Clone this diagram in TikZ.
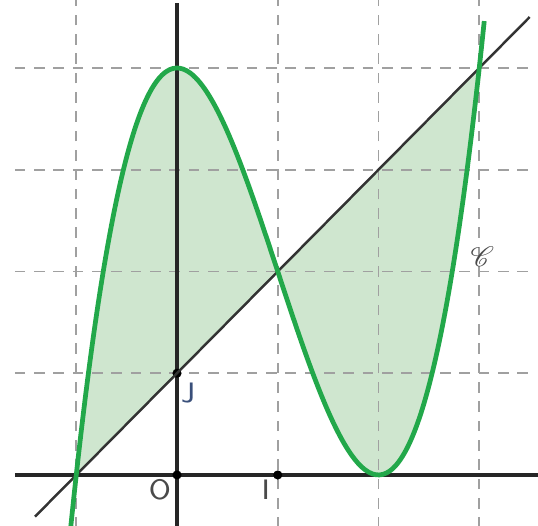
\documentclass[tikz,border=0pt]{standalone}
\usepackage{mathrsfs}
\usepackage{xcolor}
\definecolor{CurveGreen}{HTML}{22A84A}
\definecolor{AreaFill}{HTML}{CFE6CF}
\definecolor{GridGray}{HTML}{A0A0A0}
\definecolor{LabelGray}{HTML}{4A4A4A}
\definecolor{LabelBlue}{HTML}{3A4F7A}
\usetikzlibrary{positioning,calc}

\begin{document}
\begin{tikzpicture}[
    x=1.0075cm,
    y=1.0175cm,
    gridline/.style={
        draw=GridGray,
        dashed,
        dash pattern=on 3pt off 2.5pt,
        line width=0.5pt
    },
    axis/.style={
        draw=black!85,
        line width=1pt
    },
    curve/.style={
        draw=CurveGreen,
        line width=1.35pt,
        smooth,
        samples=120
    },
    droite/.style={
        draw=black!80,
        line width=0.7pt
    },
    area/.style={
        fill=AreaFill
    },
    lab/.style={
        font=\sffamily\footnotesize,
        text=LabelGray,
        inner sep=1pt
    },
    dot/.style={
        circle,
        fill=black,
        inner sep=0pt,
        minimum size=2.6pt
    }
]

\useasboundingbox (-1.757,-0.501) rectangle (3.583,4.668);

% ---------------------------------------------------------
% Aire entre la courbe et la droite
% ---------------------------------------------------------

\fill[area]
plot[smooth,samples=120,domain=-1:3] (\x,{\x*\x*\x-3*\x*\x+4})
-- cycle;

% ---------------------------------------------------------
% Quadrillage
% ---------------------------------------------------------

\foreach \k in {1,2,3,4}
  \draw[gridline] (-1.61,\k) -- (3.5,\k);

\foreach \k in {-1,1,2,3}
  \draw[gridline] (\k,-0.52) -- (\k,4.7);

% ---------------------------------------------------------
% Repere
% ---------------------------------------------------------

\coordinate (xmin) at (-1.61,0);
\coordinate (xmax) at (3.6,0);
\coordinate (ymin) at (0,-0.52);
\coordinate (ymax) at (0,4.64);

\draw[axis] (xmin) -- (xmax);
\draw[axis] (ymin) -- (ymax);

\node[dot] (O) at (0,0) {};
\node[dot] (I) at (1,0) {};
\node[dot] (J) at (0,1) {};

\node[lab] (labO) at ($(O)+(-0.17,-0.15)$) {O};
\node[lab] (labI) at ($(I)+(-0.12,-0.15)$) {I};
\node[lab,text=LabelBlue] (labJ) at ($(J)+(0.11,-0.19)$) {J};

% ---------------------------------------------------------
% Droite et courbe
% ---------------------------------------------------------

\coordinate (d1) at (-1.41,-0.41);
\coordinate (d2) at (3.5,4.5);
\draw[droite] (d1) -- (d2);

\draw[curve] plot[domain=-1.085:3.05] (\x,{\x*\x*\x-3*\x*\x+4});

\node[font=\footnotesize,text=LabelGray] (labC) at (3.03,2.15) {$\mathscr{C}$};

\end{tikzpicture}
\end{document}
